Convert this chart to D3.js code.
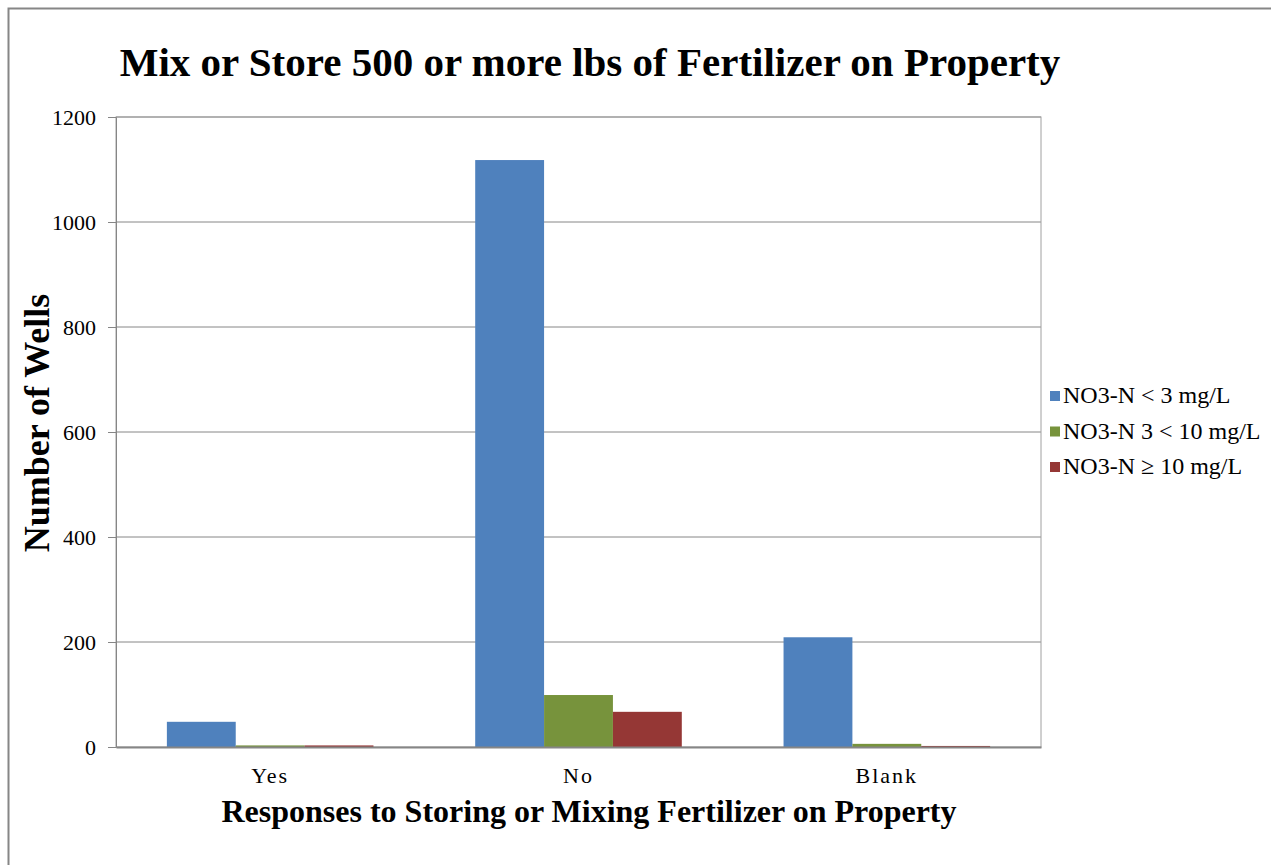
<!DOCTYPE html>
<html>
<head>
<meta charset="utf-8">
<script src="https://cdn.jsdelivr.net/npm/d3@7"></script>
<style>
  body { margin: 0; background: #fff; }
  text { font-family: "Liberation Serif", "Times New Roman", serif; fill: #000; }
</style>
</head>
<body>
<script>
// chart values
var categories = ["Yes", "No", "Blank"];
var seriesNames = ["NO3-N < 3 mg/L", "NO3-N 3 < 10 mg/L", "NO3-N \u2265 10 mg/L"];
var lowValues = [48, 1118, 209];
var midValues = [3, 99, 6];
var highValues = [3, 67, 2];
var yTicks = [0, 200, 400, 600, 800, 1000, 1200];
var colors = ["#4f81bd", "#77933c", "#953735"];

var width = 1271, height = 865;
var margin = {left: 116, right: 230, top: 117, bottom: 118};
var serif = "'Liberation Serif', 'Times New Roman', serif";

var svg = d3.select("body").append("svg")
    .attr("width", width)
    .attr("height", height);

// outer frame
svg.append("rect")
    .attr("x", 8.5).attr("y", 8.5)
    .attr("width", width + 10).attr("height", height + 10)
    .attr("fill", "none")
    .attr("stroke", "#868686")
    .attr("stroke-width", 2);

var x0 = d3.scaleBand()
    .domain(categories)
    .range([margin.left, width - margin.right])
    .paddingInner(0)
    .paddingOuter(0);

var y = d3.scaleLinear()
    .domain([0, 1200])
    .range([height - margin.bottom, margin.top]);

// bars take up 2/3 of each category, centered
var groupW = x0.bandwidth() * 0.67;
var x1 = d3.scaleBand()
    .domain(d3.range(seriesNames.length))
    .range([0, groupW]);

// gridlines
svg.append("g")
  .selectAll("line")
  .data(yTicks.slice(1))
  .enter().append("line")
    .attr("x1", margin.left).attr("x2", width - margin.right)
    .attr("y1", function(d){ return y(d); })
    .attr("y2", function(d){ return y(d); })
    .attr("stroke", "#868686")
    .attr("stroke-width", 1);

// plot area edge
svg.append("rect")
    .attr("x", margin.left).attr("y", margin.top)
    .attr("width", width - margin.right - margin.left)
    .attr("height", height - margin.bottom - margin.top)
    .attr("fill", "none")
    .attr("stroke", "#a0a0a0")
    .attr("stroke-width", 1);

var allSeries = [lowValues, midValues, highValues];

allSeries.forEach(function(vals, s){
  svg.append("g")
    .selectAll("rect")
    .data(vals)
    .enter().append("rect")
      .attr("x", function(d, i){ return x0(categories[i]) + (x0.bandwidth() - groupW) / 2 + x1(s); })
      .attr("y", function(d){ return y(d); })
      .attr("width", x1.bandwidth())
      .attr("height", function(d){ return y(0) - y(d); })
      .attr("fill", colors[s]);
});

// y axis
var yAxis = d3.axisLeft(y).tickValues(yTicks).tickFormat(d3.format("d")).tickSize(8).tickPadding(12);
var gy = svg.append("g")
    .attr("transform", "translate(" + margin.left + ",0)")
    .call(yAxis)
    .attr("font-family", serif);
gy.select(".domain").attr("stroke", "#868686");
gy.selectAll(".tick line").attr("stroke", "#868686");
gy.selectAll(".tick text").style("font-size", "22px").attr("fill", "#000");

// x axis
var xAxis = d3.axisBottom(x0).tickSize(0).tickPadding(20);
var gx = svg.append("g")
    .attr("transform", "translate(0," + y(0) + ")")
    .call(xAxis)
    .attr("font-family", serif);
gx.select(".domain").attr("stroke", "#868686").attr("stroke-width", 2);
gx.selectAll(".tick text")
    .style("font-size", "22px")
    .style("letter-spacing", "2px")
    .attr("fill", "#000");

// title
svg.append("text")
    .attr("x", 590).attr("y", 76)
    .attr("text-anchor", "middle")
    .style("font-size", "41px")
    .style("font-weight", "bold")
    .text("Mix or Store 500 or more lbs of Fertilizer on Property");

// axis titles
svg.append("text")
    .attr("transform", "translate(49,423) rotate(-90)")
    .attr("text-anchor", "middle")
    .style("font-size", "36px")
    .style("font-weight", "bold")
    .text("Number of Wells");

svg.append("text")
    .attr("x", 589).attr("y", 822)
    .attr("text-anchor", "middle")
    .style("font-size", "32px")
    .style("font-weight", "bold")
    .text("Responses to Storing or Mixing Fertilizer on Property");

// legend
var legend = svg.append("g")
  .selectAll("g")
  .data(seriesNames)
  .enter().append("g")
    .attr("transform", function(d, i){ return "translate(1050," + (391 + i * 35.5) + ")"; });

legend.append("rect")
    .attr("width", 10).attr("height", 10)
    .attr("fill", function(d, i){ return colors[i]; });

legend.append("text")
    .attr("x", 13).attr("y", 12)
    .style("font-size", "24px")
    .text(function(d){ return d; });
</script>
</body>
</html>
